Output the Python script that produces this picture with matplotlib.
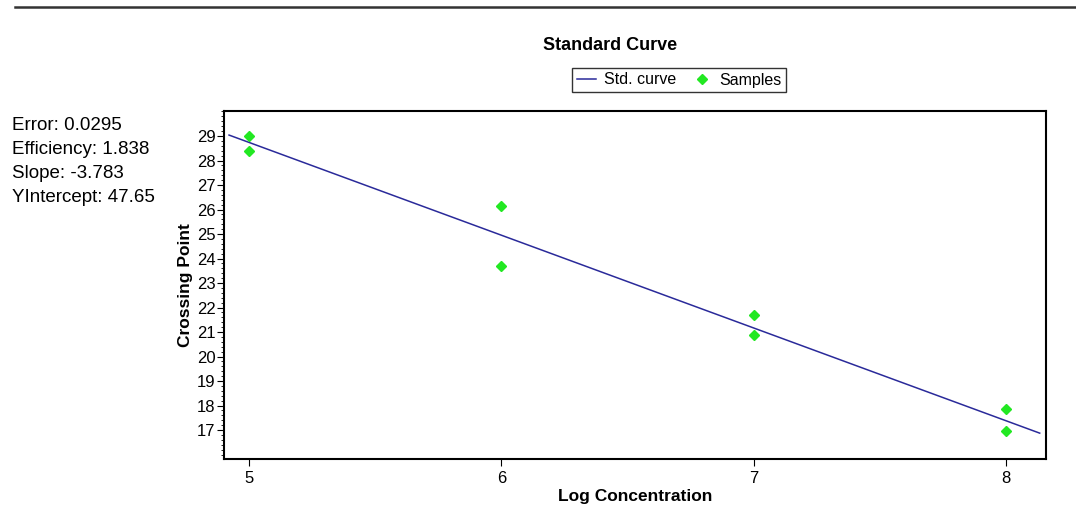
import matplotlib.pyplot as plt
import matplotlib.lines as mlines
import numpy as np
from matplotlib.ticker import MultipleLocator

# データ
log_conc = [5, 5, 6, 6, 7, 7, 8, 8]
crossing_point = [29.0, 28.4, 26.15, 23.7, 21.7, 20.9, 17.85, 16.95]
slope = -3.783
intercept = 47.65
curve_x = [4.92, 8.135]
stats_text = ["Error: 0.0295", "Efficiency: 1.838", "Slope: -3.783", "YIntercept: 47.65"]
x_ticks = [5, 6, 7, 8]
y_ticks = list(range(17, 30))

plt.rcParams['font.family'] = ['Liberation Sans', 'DejaVu Sans']

fig = plt.figure(figsize=(10.76, 5.11), dpi=100)
ax = fig.add_axes([224 / 1076, 1 - 459 / 511, (1046 - 224) / 1076, (459 - 111) / 511])

# 標準曲線
cx = np.array(curve_x)
ax.plot(cx, slope * cx + intercept, color='#2a2a9a', linewidth=1.1, label='Std. curve')
# サンプル
ax.plot(log_conc, crossing_point, linestyle='none', marker='D', markersize=5.5,
        color='#22e822', markeredgecolor='#22e822', label='Samples')

ax.set_xlim(4.9, 8.16)
ax.set_ylim(15.82, 30.02)
ax.set_xticks(x_ticks)
ax.set_yticks(y_ticks)
ax.yaxis.set_minor_locator(MultipleLocator(0.2))
ax.tick_params(axis='both', labelsize=12, direction='out', length=5, width=0.8)
ax.tick_params(axis='y', which='minor', length=2.5, width=0.6)
ax.tick_params(axis='y', pad=1)
for sp in ax.spines.values():
    sp.set_linewidth(1.5)

ax.set_xlabel('Log Concentration', fontsize=12.5, fontweight='bold', labelpad=2)
ax.set_ylabel('Crossing Point', fontsize=12.5, fontweight='bold', labelpad=3)

fig.text(610 / 1076, 1 - 45 / 511, 'Standard Curve', ha='center', va='center',
         fontsize=13, fontweight='bold')

leg = fig.legend(handles=ax.get_lines(), ncol=2, loc='center',
                 bbox_to_anchor=(679 / 1076, 1 - 80 / 511), fontsize=11.5,
                 frameon=True, fancybox=False, edgecolor='black',
                 handlelength=1.2, handletextpad=0.5, columnspacing=1.0,
                 borderpad=0.3)
leg.get_frame().set_linewidth(1.0)

# 左側の統計値
for i, s in enumerate(stats_text):
    fig.text(12 / 1076, 1 - (125 + i * 24) / 511, s, ha='left', va='center',
             fontsize=13.5)

# 上部の区切り線
fig.add_artist(mlines.Line2D([15 / 1076, 1], [1 - 7 / 511, 1 - 7 / 511],
                             color='#333333', linewidth=1.8))

fig.savefig('out.png', dpi=100)
